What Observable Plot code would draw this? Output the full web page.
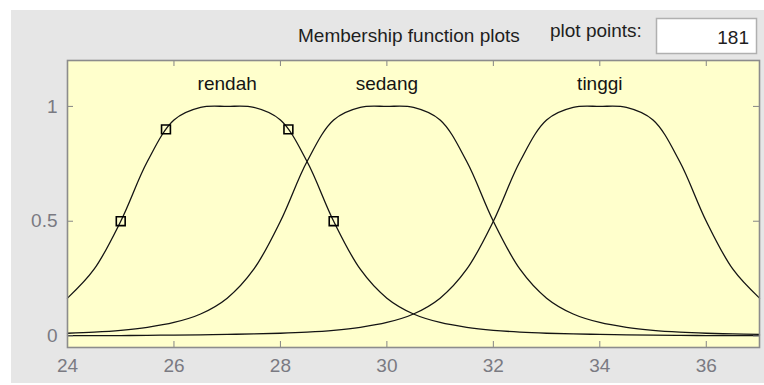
<!DOCTYPE html>
<html>
<head>
<meta charset="utf-8">
<script src="https://cdn.jsdelivr.net/npm/d3@7"></script>
<script src="https://cdn.jsdelivr.net/npm/@observablehq/plot@0.6"></script>
<style>
  html, body { margin: 0; padding: 0; background: #ffffff; }
  #page { position: relative; width: 764px; height: 385px; overflow: hidden; }
  #panel { position: absolute; left: 11px; top: 10px; width: 753px; height: 373px; background: #e6e6e6; }
  #header { position: absolute; left: 0; top: 0; }
  #chart { position: absolute; left: 0; top: 0; }
</style>
</head>
<body>
<div id="page">
  <div id="panel"></div>
  <svg id="header" width="764" height="60" font-family="'Liberation Sans', Arial, sans-serif">
    <text x="298" y="42" font-size="19" fill="#1e1e1e">Membership function plots</text>
    <text x="550" y="37" font-size="19" fill="#1e1e1e">plot points:</text>
    <rect x="656.5" y="18.5" width="100" height="35" fill="#ffffff" stroke="#b0b0b0" stroke-width="1.5"></rect>
    <text x="749" y="44" font-size="19" fill="#1e1e1e" text-anchor="end">181</text>
  </svg>
  <div id="chart"></div>
</div>
<script>
// input variable sampled every 0.5
const xs = [24, 24.5, 25, 25.5, 26, 26.5, 27, 27.5, 28, 28.5, 29, 29.5, 30, 30.5, 31, 31.5, 32, 32.5, 33, 33.5, 34, 34.5, 35, 35.5, 36, 36.5, 37];
const rendah = [0.165, 0.291, 0.5, 0.76, 0.941, 0.996, 1, 0.996, 0.941, 0.76, 0.5, 0.291, 0.165, 0.096, 0.059, 0.038, 0.025, 0.017, 0.012, 0.009, 0.007, 0.005, 0.004, 0.003, 0.002, 0.002, 0.002];
const sedang = [0.012, 0.017, 0.025, 0.038, 0.059, 0.096, 0.165, 0.291, 0.5, 0.76, 0.941, 0.996, 1, 0.996, 0.941, 0.76, 0.5, 0.291, 0.165, 0.096, 0.059, 0.038, 0.025, 0.017, 0.012, 0.009, 0.007];
const tinggi = [0.002, 0.002, 0.002, 0.003, 0.004, 0.005, 0.007, 0.009, 0.012, 0.017, 0.025, 0.038, 0.059, 0.096, 0.165, 0.291, 0.5, 0.76, 0.941, 0.996, 1, 0.996, 0.941, 0.76, 0.5, 0.291, 0.165];

const mfNames = ["rendah", "sedang", "tinggi"];
const mfCenters = [27, 30, 34];
const labelLevel = 1.1;

// selected MF handles (rendah)
const handleX = [25, 25.85, 28.15, 29];
const handleY = [0.5, 0.9, 0.9, 0.5];

const xTicks = [24, 26, 28, 30, 32, 34, 36];
const xTickLabels = ["24", "26", "28", "30", "32", "34", "36"];
const yTicks = [0, 0.5, 1];
const yTickLabels = ["0", "0.5", "1"];

const series = [rendah, sedang, tinggi];
const curveData = series.flatMap((vals, s) => xs.map((x, i) => ({mf: mfNames[s], x, y: vals[i]})));
const handles = handleX.map((x, i) => ({x, y: handleY[i]}));
const labels = mfNames.map((n, i) => ({name: n, x: mfCenters[i], y: labelLevel}));

const W = 764, H = 385, mL = 67, mR = 5, mT = 60, mB = 38;
const innerW = W - mL - mR, innerH = H - mT - mB;
const tickLen = 6;
const axisGray = "#858585";

const chart = Plot.plot({
  width: W, height: H,
  marginLeft: mL, marginRight: mR, marginTop: mT, marginBottom: mB,
  style: {background: "transparent", fontFamily: "'Liberation Sans', Arial, sans-serif", fontSize: "19px", overflow: "visible"},
  x: {domain: [24, 37]},
  y: {domain: [-0.05, 1.2]},
  marks: [
    Plot.frame({fill: "#ffffcc", stroke: "none"}),
    Plot.line(curveData, {x: "x", y: "y", z: "mf", stroke: "#141414", strokeWidth: 1.3, curve: "catmull-rom"}),
    Plot.dot(handles, {x: "x", y: "y", symbol: "square", r: 5, stroke: "#000", strokeWidth: 1.6, fill: "none"}),
    Plot.text(labels, {x: "x", y: "y", text: "name", fill: "#141414", fontSize: 19}),
    Plot.tickX(xTicks, {x: d => d, insetTop: innerH - tickLen, stroke: axisGray}),
    Plot.tickX(xTicks, {x: d => d, insetBottom: innerH - tickLen, stroke: axisGray}),
    Plot.tickY(yTicks, {y: d => d, insetRight: innerW - tickLen, stroke: axisGray}),
    Plot.tickY(yTicks, {y: d => d, insetLeft: innerW - tickLen, stroke: axisGray}),
    Plot.axisX(xTicks, {anchor: "bottom", tickSize: 0, tickPadding: 11, color: "#7a7a82", tickFormat: d => xTickLabels[xTicks.indexOf(d)], label: null}),
    Plot.axisY(yTicks, {anchor: "left", tickSize: 0, tickPadding: 10, color: "#7a7a82", tickFormat: d => yTickLabels[yTicks.indexOf(d)], label: null}),
    Plot.frame({stroke: "#8c8c8c", strokeWidth: 1.6})
  ]
});
document.getElementById("chart").appendChild(chart);
</script>
</body>
</html>
